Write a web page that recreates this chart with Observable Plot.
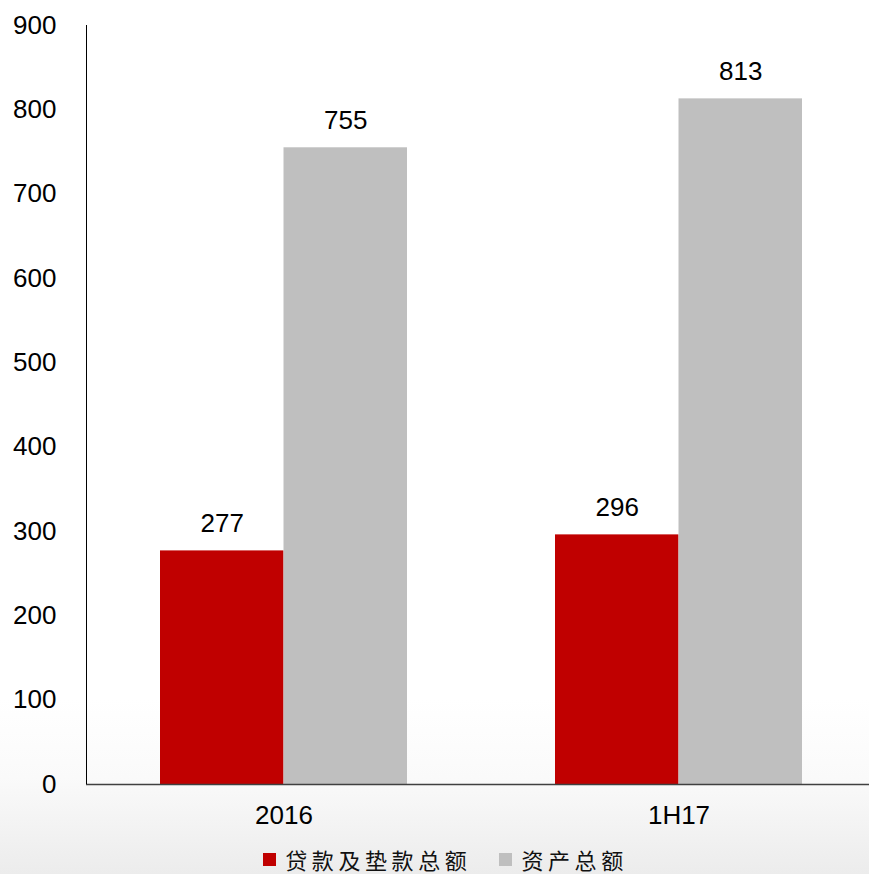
<!DOCTYPE html>
<html>
<head>
<meta charset="utf-8">
<script src="https://cdn.jsdelivr.net/npm/d3@7"></script>
<script src="https://cdn.jsdelivr.net/npm/@observablehq/plot@0.6"></script>
<style>
  html, body { margin: 0; padding: 0; width: 869px; height: 874px; overflow: hidden; }
  body { background: linear-gradient(to bottom, #ffffff 0%, #ffffff 80%, #fafafa 89%, #ececec 100%); font-family: "Liberation Sans", Arial, sans-serif; }
  #chart svg { display: block; background: transparent !important; }
  .legend { display: flex; justify-content: center; align-items: center; height: 38px; margin-left: 22px;
    font-family: "Noto Sans CJK SC", sans-serif; font-size: 22px; letter-spacing: 4.6px; color: #111; }
  .legend .item { display: flex; align-items: center; margin: 0 14px; }
  .legend .sw { width: 13px; height: 13px; margin-right: 9px; }
</style>
</head>
<body>
<div id="chart"></div>
<div class="legend" id="legend"></div>
<script>
const categories = ["2016", "1H17"];
const seriesNames = ["贷款及垫款总额", "资产总额"];
const loans = [277, 296];
const assets = [755, 813];
const yTicks = [0, 100, 200, 300, 400, 500, 600, 700, 800, 900];
const colors = ["#c00000", "#bfbfbf"];

const loanData = categories.map((c, i) => ({category: c, value: loans[i]}));
const assetData = categories.map((c, i) => ({category: c, value: assets[i]}));

const half = 123.5;

const chart = Plot.plot({
  width: 869,
  height: 840,
  marginLeft: 86,
  marginRight: 0,
  marginTop: 25,
  marginBottom: 56,
  style: {fontFamily: "'Liberation Sans', Arial, sans-serif", fontSize: "26px", color: "#000", background: "transparent"},
  x: {domain: categories, range: [86, 876], paddingInner: 0.3747, paddingOuter: 0.187, label: null},
  y: {domain: [0, 900], label: null},
  marks: [
    Plot.barY(loanData, {x: "category", y: "value", fill: colors[0], insetRight: half}),
    Plot.barY(assetData, {x: "category", y: "value", fill: colors[1], insetLeft: half}),
    Plot.text(loanData, {x: "category", y: "value", text: d => String(d.value), dx: -half / 2, dy: -27, fontSize: 26, fill: "#000"}),
    Plot.text(assetData, {x: "category", y: "value", text: d => String(d.value), dx: half / 2, dy: -27, fontSize: 26, fill: "#000"}),
    Plot.axisY({ticks: yTicks, tickSize: 0, tickPadding: 30, fontSize: 26}),
    Plot.axisX({tickSize: 0, tickPadding: 21, fontSize: 26}),
    Plot.ruleY([0], {stroke: "#404040", strokeWidth: 1.3})
  ]
});
document.getElementById("chart").appendChild(chart);

// left axis line drawn with the y scale
const yScale = chart.scale("y");
d3.select(chart).append("line")
  .attr("x1", 86.5).attr("x2", 86.5)
  .attr("y1", yScale.apply(900)).attr("y2", yScale.apply(0))
  .attr("stroke", "#000").attr("stroke-width", 1);

const legend = document.getElementById("legend");
seriesNames.forEach((name, i) => {
  const item = document.createElement("div");
  item.className = "item";
  const sw = document.createElement("span");
  sw.className = "sw";
  sw.style.background = colors[i];
  const t = document.createElement("span");
  t.textContent = name;
  item.appendChild(sw);
  item.appendChild(t);
  legend.appendChild(item);
});
</script>
</body>
</html>
